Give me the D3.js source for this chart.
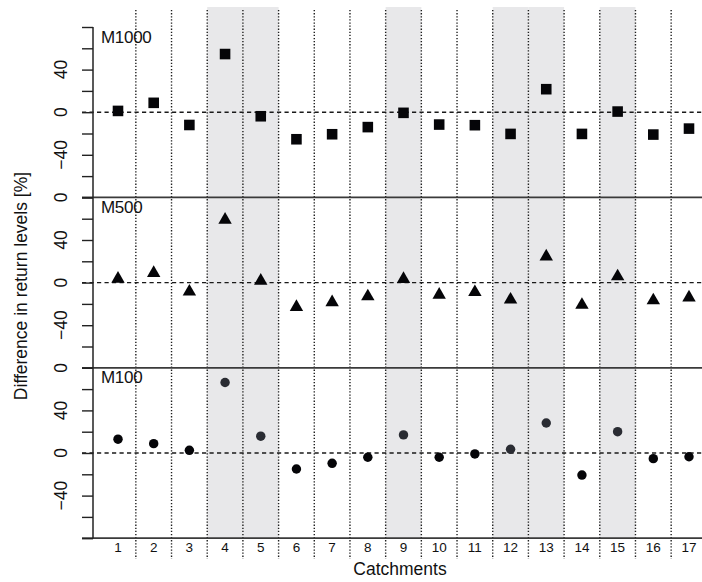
<!DOCTYPE html>
<html>
<head>
<meta charset="utf-8">
<script src="https://cdn.jsdelivr.net/npm/d3@7"></script>
<style>
  html, body { margin: 0; padding: 0; background: #fff; }
  svg { display: block; font-family: "Liberation Sans", Arial, Helvetica, sans-serif; }
</style>
</head>
<body>
<svg id="chart" width="702" height="582"></svg>
<script>
// Catchment numbers along the x axis
const catchments = [1, 2, 3, 4, 5, 6, 7, 8, 9, 10, 11, 12, 13, 14, 15, 16, 17];
// Catchments highlighted with a grey band
const shadedCatchments = [4, 5, 9, 12, 13, 15];

// Difference in return levels [%] per model
const m1000 = [1.2, 8.8, -12, 54.6, -3.8, -25.4, -20.7, -14, -0.6, -11.6, -12.2, -20.4, 21.6, -20.4, 0.6, -21, -15.4];
const m500  = [3.5, 9, -8.5, 59, 1.7, -23, -18.5, -13, 3.3, -11.5, -9, -16, 24.4, -21, 5.8, -16.8, -14];
const m100  = [13, 8.8, 2.5, 66.2, 15.8, -15, -9.7, -4, 17, -4, -0.9, 3.5, 28.2, -20.7, 20, -5.3, -3.5];

const panelNames = ["M1000", "M500", "M100"];
const panelSeries = [m1000, m500, m100];
const panelSymbols = ["square", "triangle", "circle"];

// Y axis ticks and the values that carry a label
const yTickValues = [-80, -60, -40, -20, 0, 20, 40, 60, 80];
const yLabelValues = [-40, 0, 40];
// Label printed where a lower panel meets the one above it
const panelTopLabel = "0";

const xTitle = "Catchments";
const yTitle = "Difference in return levels [%]";

// ---- layout ----
const svg = d3.select("#chart");
const W = 702;
const axisX = 93;
const tickLen = 11;
const panelTop0 = 27;
const panelH = 170.4;
const inkDark = "#111";

const x = d3.scaleLinear().domain([1, 17]).range([118, 689]);

const panelY = panelNames.map((_, i) => {
  const top = panelTop0 + i * panelH;
  return d3.scaleLinear().domain([-80, 80]).range([top + panelH, top]);
});
const plotBottom = panelTop0 + 3 * panelH;

// grey bands behind highlighted catchments
svg.append("g").selectAll("rect")
  .data(shadedCatchments)
  .join("rect")
  .attr("x", d => x(d - 0.5))
  .attr("width", d => x(d + 0.5) - x(d - 0.5))
  .attr("y", 7)
  .attr("height", plotBottom - 7)
  .attr("fill", "#e8e8ea");

// dotted separators between catchments
svg.append("g").selectAll("line")
  .data(catchments.slice(0, -1))
  .join("line")
  .attr("x1", d => x(d + 0.5)).attr("x2", d => x(d + 0.5))
  .attr("y1", 10).attr("y2", 559)
  .attr("stroke", "#1e1e1e")
  .attr("stroke-width", 1.4)
  .attr("stroke-dasharray", "1.3,1.8");

// dashed zero reference line in every panel
svg.append("g").selectAll("line")
  .data(panelY)
  .join("line")
  .attr("x1", axisX - tickLen).attr("x2", W)
  .attr("y1", y => y(0)).attr("y2", y => y(0))
  .attr("stroke", "#1a1a1a")
  .attr("stroke-width", 1.4)
  .attr("stroke-dasharray", "4.2,3.3");

// solid panel boundaries
svg.append("g").selectAll("line")
  .data(panelY)
  .join("line")
  .attr("x1", axisX - tickLen).attr("x2", W)
  .attr("y1", y => y(-80)).attr("y2", y => y(-80))
  .attr("stroke", "#3a3a3a")
  .attr("stroke-width", 1.7);

// y axes built from d3.axisLeft for each panel
panelY.forEach((y, i) => {
  const g = svg.append("g")
    .attr("transform", `translate(${axisX},0)`)
    .call(d3.axisLeft(y).tickValues(yTickValues).tickSize(tickLen).tickFormat(""));
  g.select(".domain").attr("stroke", "#222").attr("stroke-width", 1.5)
    .attr("d", `M0,${y(80)}V${y(-80)}`);
  g.selectAll(".tick line").attr("stroke", "#222").attr("stroke-width", 1.4);

  const labels = yLabelValues.map(v => ({ v, t: d3.format("d")(v).replace("-", "\u2212") }));
  if (i > 0) labels.push({ v: 80, t: panelTopLabel });
  svg.append("g").selectAll("text")
    .data(labels)
    .join("text")
    .attr("transform", d => `translate(67,${y(d.v)}) rotate(-90)`)
    .attr("text-anchor", "middle")
    .attr("font-size", 17.5)
    .attr("fill", inkDark)
    .text(d => d.t);

  // panel name
  svg.append("text")
    .attr("x", 101)
    .attr("y", y(80) + 15.5)
    .attr("font-size", 17)
    .attr("fill", inkDark)
    .attr("letter-spacing", -0.3)
    .text(panelNames[i]);
});

// points
const symbolSizes = { square: 112, triangle: 78, circle: 70 };
const symbolTypes = { square: d3.symbolSquare, triangle: d3.symbolTriangle, circle: d3.symbolCircle };
panelSeries.forEach((vals, i) => {
  const y = panelY[i];
  const kind = panelSymbols[i];
  const sym = d3.symbol().type(symbolTypes[kind]).size(symbolSizes[kind]);
  svg.append("g").selectAll("path")
    .data(catchments.map((c, j) => ({ c, v: vals[j] })))
    .join("path")
    .attr("transform", d => `translate(${x(d.c)},${y(d.v)})`)
    .attr("d", sym)
    .attr("fill", d => (kind === "circle" && shadedCatchments.includes(d.c)) ? "#2a2c33" : "#050508");
});

// x tick labels
svg.append("g").selectAll("text")
  .data(catchments)
  .join("text")
  .attr("x", d => x(d))
  .attr("y", 552)
  .attr("text-anchor", "middle")
  .attr("font-size", 13.5)
  .attr("fill", inkDark)
  .text(d => d);

// axis titles
svg.append("text")
  .attr("x", 400).attr("y", 575)
  .attr("text-anchor", "middle")
  .attr("font-size", 17.5)
  .attr("fill", inkDark)
  .text(xTitle);

svg.append("text")
  .attr("transform", "translate(27,286) rotate(-90)")
  .attr("text-anchor", "middle")
  .attr("font-size", 17.5)
  .attr("fill", inkDark)
  .text(yTitle);
</script>
</body>
</html>
